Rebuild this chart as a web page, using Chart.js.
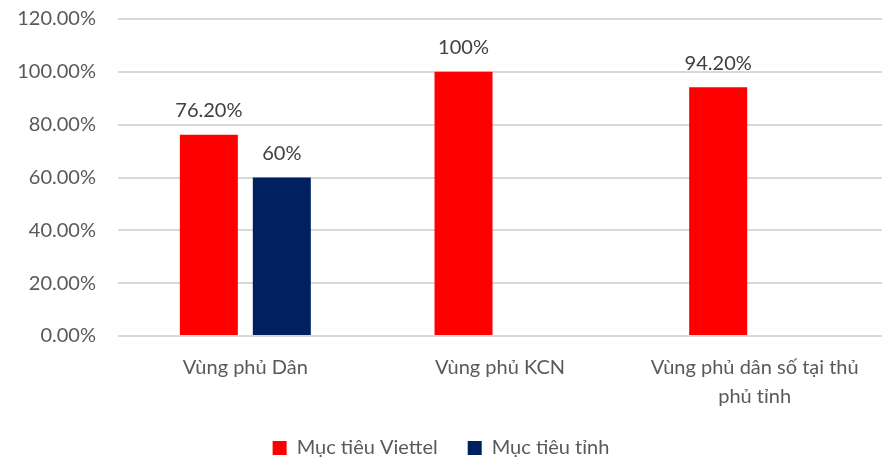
<!DOCTYPE html>
<html>
<head>
<meta charset="utf-8">
<script src="https://cdn.jsdelivr.net/npm/chart.js@4"></script>
<style>
  html, body { margin: 0; padding: 0; background: #fff; }
  .chart-container { width: 883px; height: 458px; }
</style>
</head>
<body>
<div class="chart-container">
  <canvas id="chart"></canvas>
</div>
<script>
const categories = [
  "Vùng phủ Dân",
  "Vùng phủ KCN",
  ["Vùng phủ dân số tại thủ", "phủ tỉnh"],
];
const viettelValues = [76.2, 100, 94.2];
const provinceValues = [60, null, null];
const viettelLabels = ["76.20%", "100%", "94.20%"];
const provinceLabels = ["60%", "", ""];
const seriesNames = ["Mục tiêu Viettel", "Mục tiêu tỉnh"];

const textColor = "#595959";
const fontFamily = "Lato, 'Open Sans', sans-serif";

// draws value text above each bar
const barLabels = {
  id: "barLabels",
  afterDatasetsDraw(chart) {
    const ctx = chart.ctx;
    const texts = [viettelLabels, provinceLabels];
    ctx.save();
    ctx.font = "20px " + fontFamily;
    ctx.fillStyle = "#404040";
    ctx.textAlign = "center";
    ctx.textBaseline = "middle";
    chart.data.datasets.forEach((ds, i) => {
      const meta = chart.getDatasetMeta(i);
      meta.data.forEach((bar, j) => {
        if (ds.data[j] == null || !texts[i][j]) return;
        ctx.fillText(texts[i][j], bar.x, bar.y - 24);
      });
    });
    ctx.restore();
  },
};

const chart = new Chart(document.getElementById("chart"), {
  type: "bar",
  data: {
    labels: categories,
    datasets: [
      {
        label: seriesNames[0],
        data: viettelValues,
        backgroundColor: "#FF0000",
        categoryPercentage: 0.573,
        barPercentage: 0.795,
      },
      {
        label: seriesNames[1],
        data: provinceValues,
        backgroundColor: "#002060",
        categoryPercentage: 0.573,
        barPercentage: 0.795,
      },
    ],
  },
  options: {
    responsive: true,
    maintainAspectRatio: false,
    animation: false,
    layout: { padding: { top: 0, right: 1, left: 0, bottom: -10 } },
    scales: {
      x: {
        grid: { display: false, drawTicks: false },
        border: { display: false },
        ticks: {
          color: textColor,
          font: { family: fontFamily, size: 20, lineHeight: 1.45 },
          padding: 17,
          maxRotation: 0,
          autoSkip: false,
        },
        afterFit: (scale) => { scale.height = 72; },
      },
      y: {
        min: 0,
        max: 120,
        grid: { color: "#d9d9d9", lineWidth: 2, drawTicks: false },
        border: { display: false },
        ticks: {
          stepSize: 20,
          color: textColor,
          font: { family: fontFamily, size: 20 },
          padding: 22,
          callback: (v) => v.toFixed(2) + "%",
        },
        afterFit: (scale) => {
          scale.width = 118;
          // tick padding is also added above the top label; keep only the half label
          scale.paddingTop = 19;
          scale.paddingBottom = 12;
        },
      },
    },
    plugins: {
      legend: {
        position: "bottom",
        labels: {
          color: textColor,
          font: { family: fontFamily, size: 20 },
          boxWidth: 14,
          boxHeight: 14,
          padding: 30,
        },
      },
      tooltip: { enabled: false },
    },
  },
  plugins: [barLabels],
});
</script>
</body>
</html>
